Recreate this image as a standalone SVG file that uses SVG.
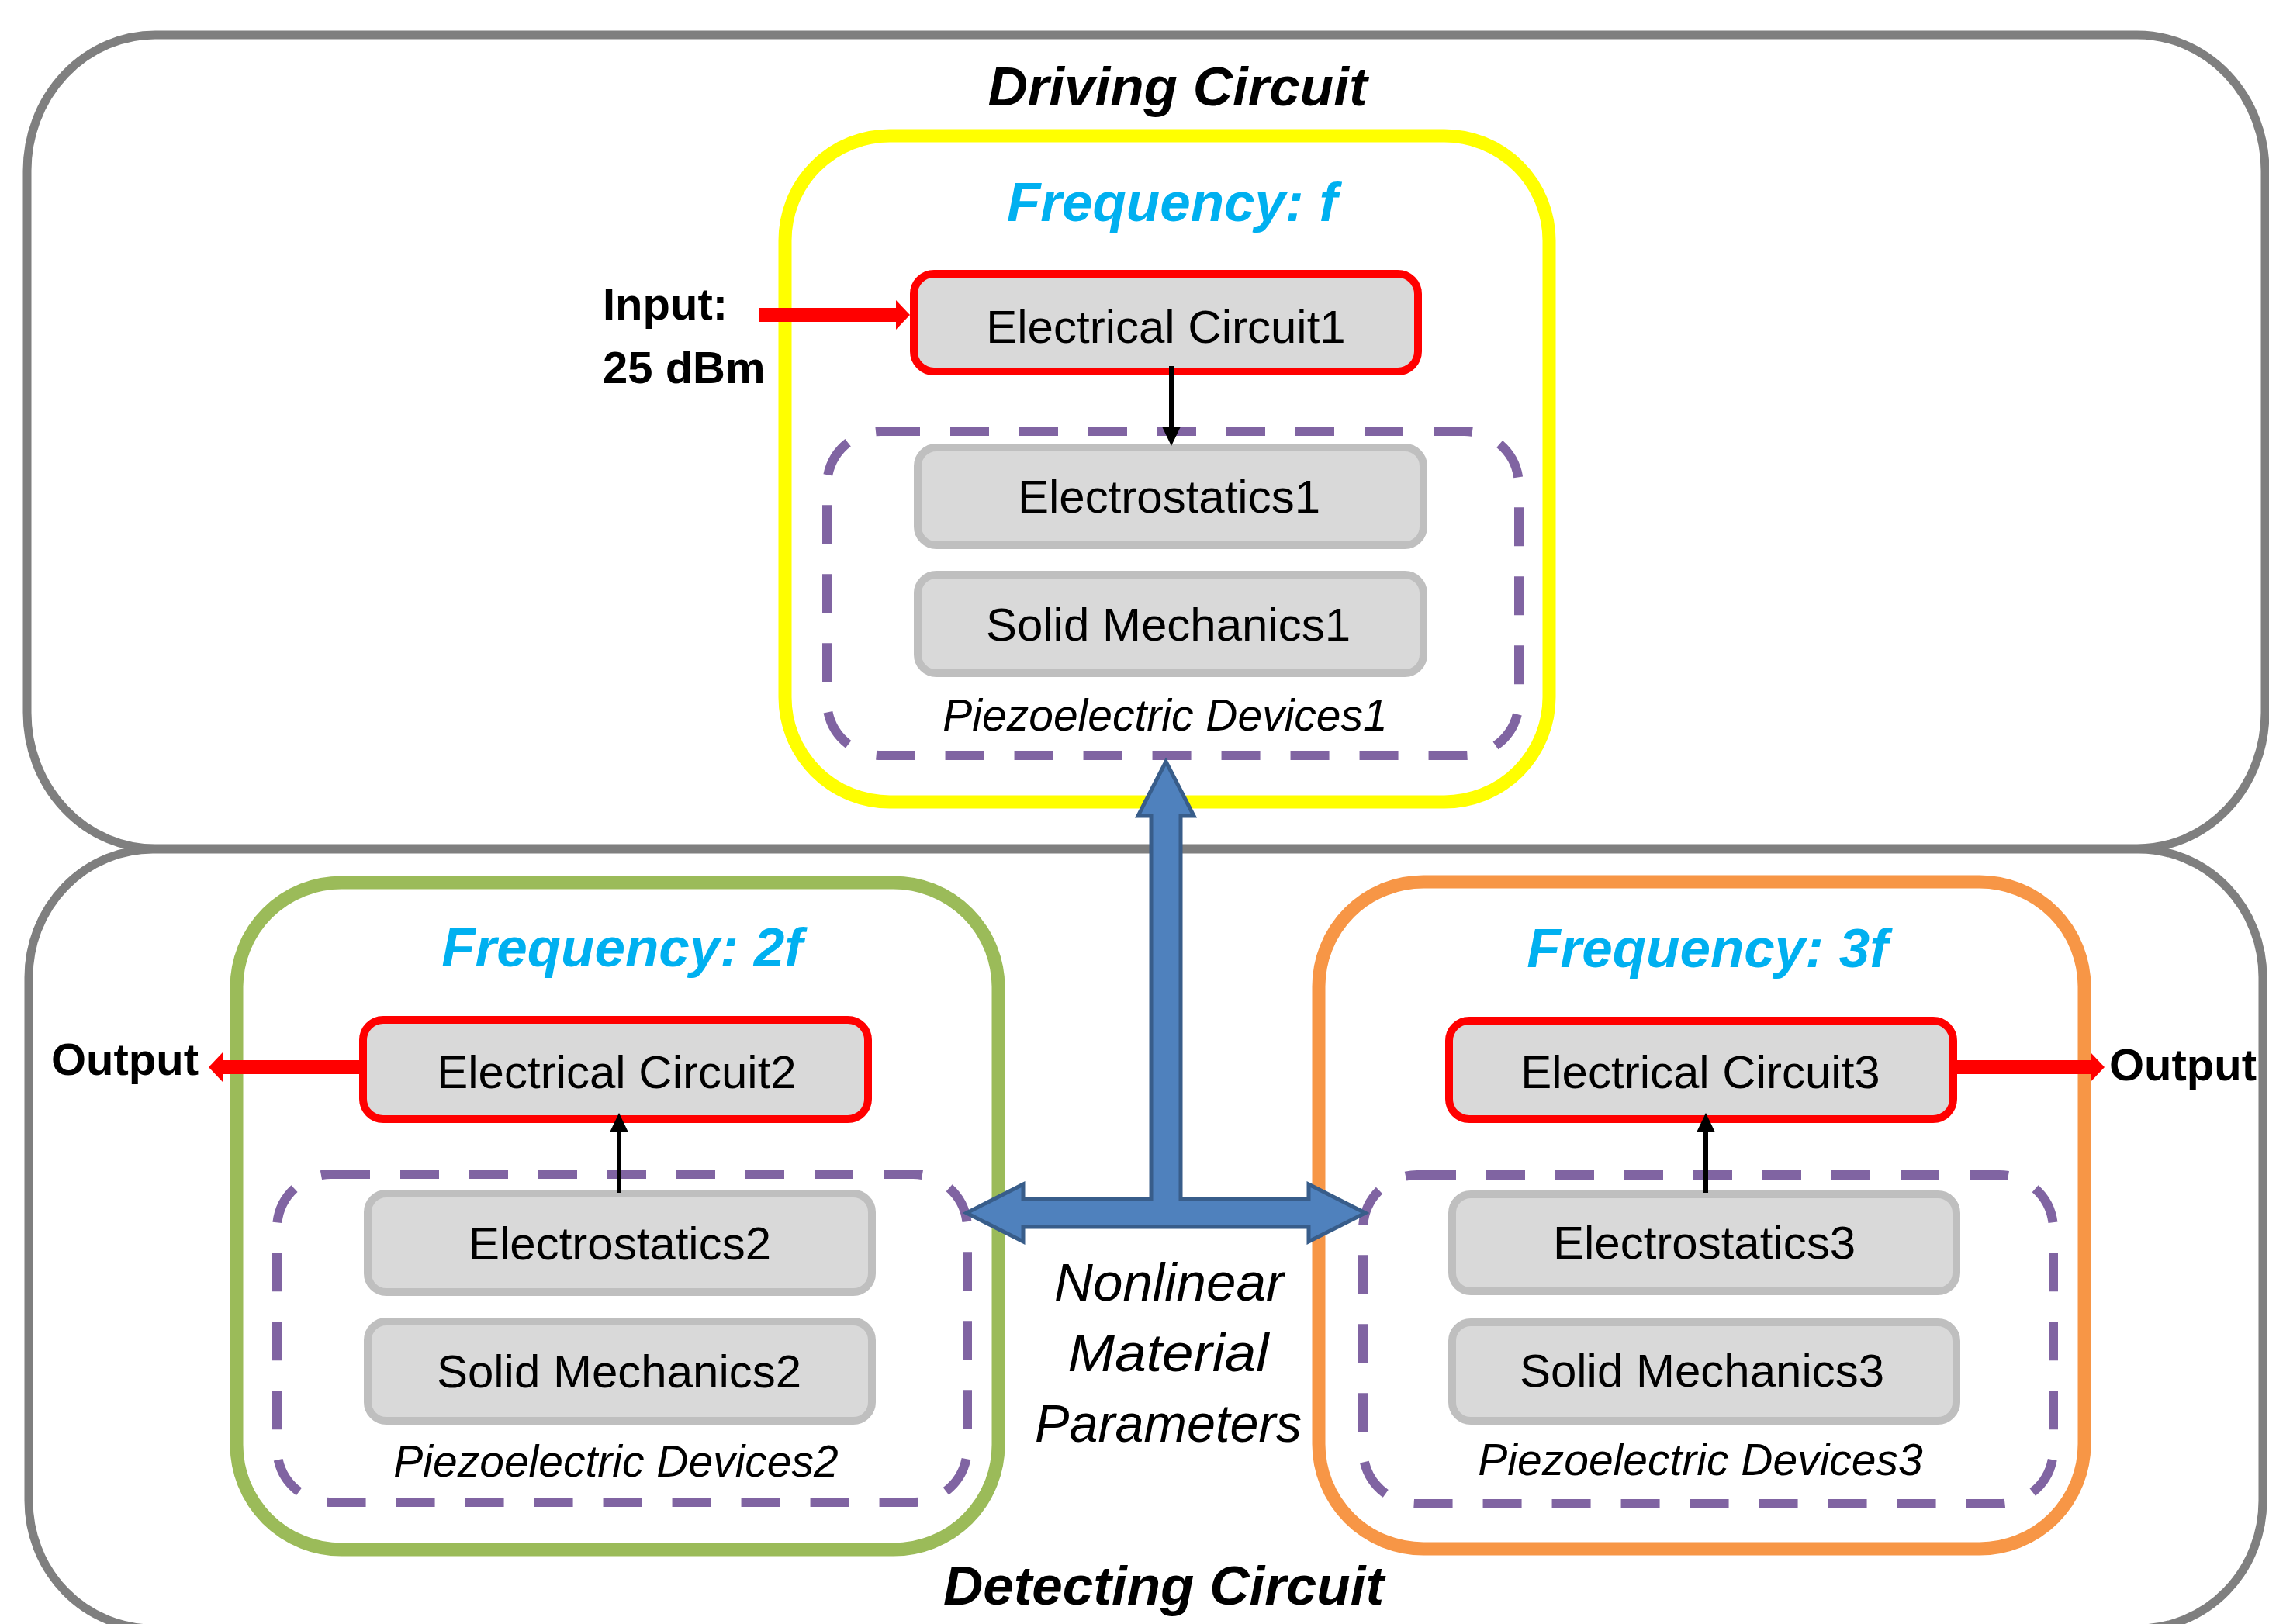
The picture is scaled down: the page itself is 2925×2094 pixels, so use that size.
<svg xmlns="http://www.w3.org/2000/svg" width="2925" height="2094" viewBox="0 0 2925 2094">
<defs>
<style>
text{font-family:"Liberation Sans",Arial,sans-serif;fill:#000}
.title{font-size:71px;font-weight:bold;font-style:italic}
.freq{font-size:71px;font-weight:bold;font-style:italic;fill:#00B0F0}
.lbl{font-size:60px}
.piezo{font-size:57px;font-style:italic}
.io{font-size:58px;font-weight:bold}
.nl{font-size:69px;font-style:italic}
.outer{fill:none;stroke:#7F7F7F;stroke-width:11}
.freqbox{fill:none;stroke-width:17}
.dash{fill:none;stroke:#8064A2;stroke-width:12;stroke-dasharray:50 39}
.ec{fill:#D9D9D9;stroke:#FF0000;stroke-width:10}
.phys{fill:#D9D9D9;stroke:#BFBFBF;stroke-width:10}
.red{stroke:#FF0000;stroke-width:18;fill:none}
.blk{stroke:#000;stroke-width:6;fill:none}
</style>
<marker id="redhead" markerUnits="userSpaceOnUse" markerWidth="18" markerHeight="38" viewBox="0 0 18 38" refX="1" refY="19" orient="auto">
<path d="M0,0 L18,19 L0,38 Z" fill="#FF0000"/>
</marker>
<marker id="blkhead" markerUnits="userSpaceOnUse" markerWidth="25" markerHeight="24" viewBox="0 0 25 24" refX="1" refY="12" orient="auto">
<path d="M0,0 L25,12 L0,24 Z" fill="#000"/>
</marker>
</defs>
<rect x="0" y="0" width="2925" height="2094" fill="#FFFFFF"/>

<g id="driving-circuit">
<rect class="outer" x="35" y="45" width="2885" height="1049" rx="165" ry="175"/>
<text class="title" x="1518" y="136" text-anchor="middle">Driving Circuit</text>
</g>
<g id="detecting-circuit">
<rect class="outer" x="37" y="1095" width="2880" height="1005" rx="160" ry="165"/>
<text class="title" x="1500" y="2069" text-anchor="middle">Detecting Circuit</text>
</g>

<g id="freq-f">
<rect class="freqbox" stroke="#FFFF00" x="1012" y="175" width="985" height="859" rx="135"/>
<text class="freq" x="1511" y="285" text-anchor="middle">Frequency: f</text>
</g>
<g id="freq-2f">
<rect class="freqbox" stroke="#9BBB59" x="305" y="1138" width="982" height="860" rx="135"/>
<text class="freq" x="802" y="1246" text-anchor="middle">Frequency: 2f</text>
</g>
<g id="freq-3f">
<rect class="freqbox" stroke="#F79646" x="1700" y="1137" width="987" height="860" rx="135"/>
<text class="freq" x="2201" y="1247" text-anchor="middle">Frequency: 3f</text>
</g>

<g id="piezo1">
<rect class="dash" x="1066" y="556" width="892" height="418" rx="70"/>
<text class="piezo" x="1502" y="942" text-anchor="middle">Piezoelectric Devices1</text>
</g>
<g id="piezo2">
<rect class="dash" x="357" y="1514" width="890" height="423" rx="70"/>
<text class="piezo" x="794" y="1904" text-anchor="middle">Piezoelectric Devices2</text>
</g>
<g id="piezo3">
<rect class="dash" x="1757" y="1515" width="890" height="424" rx="70"/>
<text class="piezo" x="2192" y="1902" text-anchor="middle">Piezoelectric Devices3</text>
</g>

<g id="ec1">
<rect class="ec" x="1178" y="353" width="650" height="126" rx="26"/>
<text class="lbl" x="1503" y="442" text-anchor="middle">Electrical Circuit1</text>
</g>
<g id="es1">
<rect class="phys" x="1183" y="577" width="652" height="126" rx="24"/>
<text class="lbl" x="1507" y="661" text-anchor="middle">Electrostatics1</text>
</g>
<g id="sm1">
<rect class="phys" x="1183" y="741" width="652" height="127" rx="24"/>
<text class="lbl" x="1506" y="826" text-anchor="middle">Solid Mechanics1</text>
</g>

<g id="ec2">
<rect class="ec" x="468" y="1315" width="651" height="128" rx="26"/>
<text class="lbl" x="795" y="1403" text-anchor="middle">Electrical Circuit2</text>
</g>
<g id="es2">
<rect class="phys" x="474" y="1539" width="650" height="127" rx="24"/>
<text class="lbl" x="799" y="1624" text-anchor="middle">Electrostatics2</text>
</g>
<g id="sm2">
<rect class="phys" x="474" y="1704" width="650" height="128" rx="24"/>
<text class="lbl" x="798" y="1789" text-anchor="middle">Solid Mechanics2</text>
</g>

<g id="ec3">
<rect class="ec" x="1868" y="1316" width="650" height="127" rx="26"/>
<text class="lbl" x="2192" y="1403" text-anchor="middle">Electrical Circuit3</text>
</g>
<g id="es3">
<rect class="phys" x="1872" y="1540" width="650" height="125" rx="24"/>
<text class="lbl" x="2197" y="1623" text-anchor="middle">Electrostatics3</text>
</g>
<g id="sm3">
<rect class="phys" x="1872" y="1705" width="650" height="127" rx="24"/>
<text class="lbl" x="2194" y="1788" text-anchor="middle">Solid Mechanics3</text>
</g>

<g id="input-label">
<text class="io" x="777" y="412">Input:</text>
<text class="io" x="777" y="494">25 dBm</text>
</g>
<g id="output-left">
<text class="io" x="66" y="1386">Output</text>
</g>
<g id="output-right">
<text class="io" x="2719" y="1393">Output</text>
</g>
<g id="nonlinear-label">
<text class="nl" x="1507" y="1677" text-anchor="middle" textLength="296" lengthAdjust="spacingAndGlyphs">Nonlinear</text>
<text class="nl" x="1506" y="1768" text-anchor="middle" textLength="259" lengthAdjust="spacingAndGlyphs">Material</text>
<text class="nl" x="1506" y="1859" text-anchor="middle" textLength="344" lengthAdjust="spacingAndGlyphs">Parameters</text>
</g>

<g id="connectors">
<line class="red" x1="979" y1="406" x2="1156" y2="406" marker-end="url(#redhead)"/>
<line class="red" x1="463" y1="1376" x2="286" y2="1376" marker-end="url(#redhead)"/>
<line class="red" x1="2522" y1="1376" x2="2696" y2="1376" marker-end="url(#redhead)"/>
<line class="blk" x1="1510" y1="472" x2="1510" y2="551" marker-end="url(#blkhead)"/>
<line class="blk" x1="798" y1="1538" x2="798" y2="1459" marker-end="url(#blkhead)"/>
<line class="blk" x1="2199" y1="1538" x2="2199" y2="1459" marker-end="url(#blkhead)"/>
<path d="M1503,982 L1539,1052 L1522,1052 L1522,1546 L1687,1546 L1687,1527 L1760,1564 L1687,1601 L1687,1582 L1319,1582 L1319,1601 L1246,1564 L1319,1527 L1319,1546 L1484,1546 L1484,1052 L1467,1052 Z" fill="#4F81BD" stroke="#385D8A" stroke-width="5" stroke-linejoin="miter"/>
</g>
</svg>
